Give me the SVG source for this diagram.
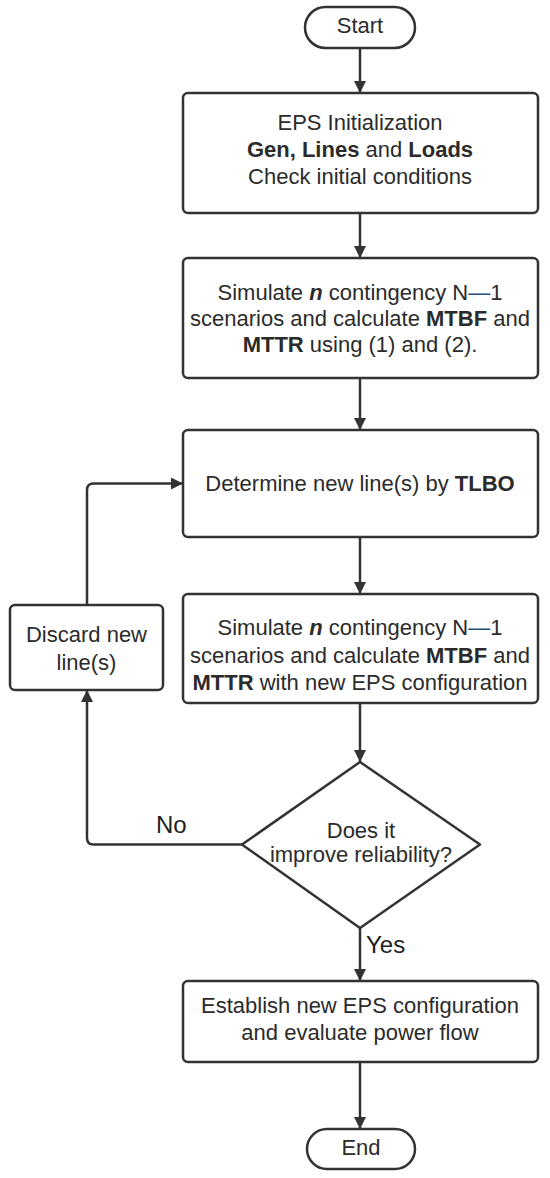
<svg xmlns="http://www.w3.org/2000/svg" width="550" height="1178" viewBox="0 0 550 1178">
<defs>
<style>
.box{fill:#fff;stroke:#333;stroke-width:2.5}
.t{font-family:"Liberation Sans",Arial,sans-serif;font-size:22px;fill:#2b2b2b;text-anchor:middle}
.b{font-weight:bold}
.c{fill:none;stroke:#333;stroke-width:2.5}
.lbl{font-family:"Liberation Sans",Arial,sans-serif;font-size:24px;fill:#222}
</style>
<marker id="ah" markerUnits="userSpaceOnUse" markerWidth="14" markerHeight="14" refX="12" refY="6" orient="auto">
<path d="M0,0 L12,6 L0,12 z" fill="#333"/>
</marker>
</defs>
<rect width="550" height="1178" fill="#fff"/>
<g id="connectors">
<line class="c" x1="360" y1="48" x2="360" y2="93" marker-end="url(#ah)"/>
<line class="c" x1="360" y1="213" x2="360" y2="258" marker-end="url(#ah)"/>
<line class="c" x1="360" y1="378" x2="360" y2="430" marker-end="url(#ah)"/>
<line class="c" x1="360" y1="537" x2="360" y2="594" marker-end="url(#ah)"/>
<line class="c" x1="360" y1="703" x2="360" y2="762" marker-end="url(#ah)"/>
<line class="c" x1="360" y1="928" x2="360" y2="981" marker-end="url(#ah)"/>
<line class="c" x1="360" y1="1062" x2="360" y2="1129" marker-end="url(#ah)"/>
<path class="c" d="M87,605 L87,490 Q87,483.5 93.5,483.5 L183,483.5" marker-end="url(#ah)"/>
<path class="c" d="M242,844.5 L93.5,844.5 Q87,844.5 87,838 L87,690" marker-end="url(#ah)"/>
<text class="lbl" x="156" y="833">No</text>
<text class="lbl" x="366" y="953">Yes</text>
</g>
<g id="start">
<rect class="box" x="305" y="7" width="110" height="41" rx="20.5"/>
<text class="t" x="360" y="33">Start</text>
</g>
<g id="init">
<rect class="box" x="183" y="93" width="355" height="120" rx="5"/>
<text class="t" x="360" y="130" fill="#444">EPS Initialization</text>
<text class="t" x="360" y="157"><tspan class="b">Gen, Lines</tspan> and <tspan class="b">Loads</tspan></text>
<text class="t" x="360" y="184">Check initial conditions</text>
</g>
<g id="simulate1">
<rect class="box" x="183" y="258" width="355" height="120" rx="5"/>
<text class="t" x="360" y="300">Simulate <tspan class="b" font-style="italic">n</tspan> contingency N<tspan fill="#1f4f7a">—</tspan>1</text>
<text class="t" x="360" y="326">scenarios and calculate <tspan class="b">MTBF</tspan> and</text>
<text class="t" x="360" y="352"><tspan class="b">MTTR</tspan> using (1) and (2).</text>
</g>
<g id="tlbo">
<rect class="box" x="183" y="430" width="355" height="107" rx="5"/>
<text class="t" x="360" y="491">Determine new line(s) by <tspan class="b">TLBO</tspan></text>
</g>
<g id="simulate2">
<rect class="box" x="183" y="594" width="355" height="109" rx="5"/>
<text class="t" x="360" y="635">Simulate <tspan class="b" font-style="italic">n</tspan> contingency N<tspan fill="#1f4f7a">—</tspan>1</text>
<text class="t" x="360" y="663">scenarios and calculate <tspan class="b">MTBF</tspan> and</text>
<text class="t" x="360" y="690"><tspan class="b">MTTR</tspan> with new EPS configuration</text>
</g>
<g id="discard">
<rect class="box" x="10" y="605" width="153" height="85" rx="5"/>
<text class="t" x="86.5" y="642">Discard new</text>
<text class="t" x="86.5" y="670">line(s)</text>
</g>
<g id="decision">
<path class="box" d="M360,762 L480,844.5 L360,928 L242,844.5 Z" stroke-linejoin="round"/>
<text class="t" x="361" y="838" font-size="21">Does it</text>
<text class="t" x="361" y="862" font-size="21">improve reliability?</text>
</g>
<g id="establish">
<rect class="box" x="183" y="981" width="355" height="81" rx="5"/>
<text class="t" x="360" y="1013">Establish new EPS configuration</text>
<text class="t" x="360" y="1040">and evaluate power flow</text>
</g>
<g id="end">
<rect class="box" x="307" y="1129" width="108" height="40" rx="20"/>
<text class="t" x="361" y="1155">End</text>
</g>
</svg>
